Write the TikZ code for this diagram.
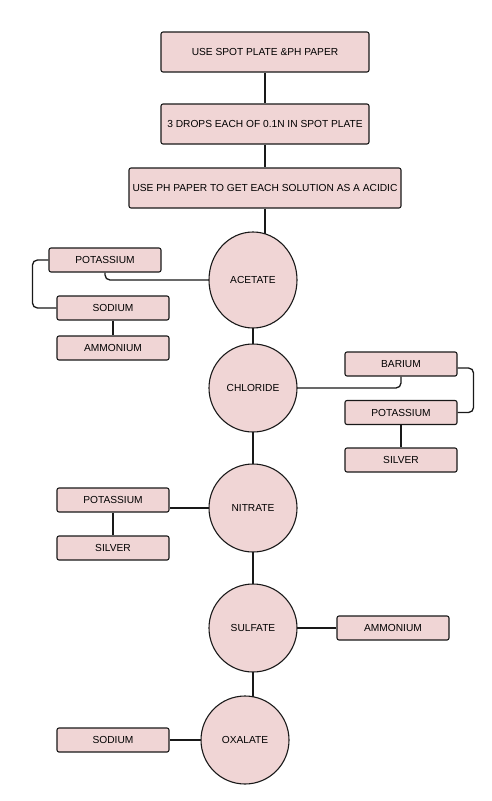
\documentclass[tikz,border=0pt]{standalone}
\usepackage{fontspec}
\setmainfont{Liberation Sans}
\usetikzlibrary{shapes.geometric}
\pgfdeclarelayer{background}
\pgfsetlayers{background,main}
\definecolor{pinkfill}{RGB}{240,213,213}
\definecolor{edge}{RGB}{25,25,25}
\tikzset{
  base/.style={draw=edge, fill=pinkfill, line width=1.1pt, font=\fontsize{10.2}{12}\selectfont, text=black, inner sep=0pt},
  bigbox/.style={base, rectangle, rounded corners=2pt, minimum height=40pt},
  smallbox/.style={base, rectangle, rounded corners=2pt, minimum width=112pt, minimum height=24pt},
  anion/.style={base, ellipse, minimum width=88pt, minimum height=88pt},
  link/.style={draw=edge, line width=1.3pt},
  elbowlink/.style={link, rounded corners=5pt}
}
\begin{document}
\begin{tikzpicture}[x=1pt, y=-1pt]
\useasboundingbox (0,0) rectangle (491,801);
% main steps
\node[bigbox, minimum width=208pt] (b1) at (265,52) {USE SPOT PLATE \&PH PAPER};
\node[bigbox, minimum width=208pt] (b2) at (265,124) {3 DROPS EACH OF 0.1N IN SPOT PLATE};
\node[bigbox, minimum width=272pt] (b3) at (265,188) {USE PH PAPER TO GET EACH SOLUTION AS A ACIDIC};
% anions
\node[anion, minimum height=96pt] (ac) at (253,280) {ACETATE};
\node[anion] (ch) at (253,388) {CHLORIDE};
\node[anion] (ni) at (253,508) {NITRATE};
\node[anion] (su) at (253,628) {SULFATE};
\node[anion] (ox) at (245,740) {OXALATE};
% acetate cations
\node[smallbox] (kA) at (105,260) {POTASSIUM};
\node[smallbox] (naA) at (113,308) {SODIUM};
\node[smallbox] (amA) at (113,348) {AMMONIUM};
% chloride cations
\node[smallbox] (baC) at (401,364) {BARIUM};
\node[smallbox] (kC) at (401,412.5) {POTASSIUM};
\node[smallbox] (agC) at (401,460) {SILVER};
% nitrate cations
\node[smallbox] (kN) at (113,500) {POTASSIUM};
\node[smallbox] (agN) at (113,548) {SILVER};
% sulfate cation
\node[smallbox] (amS) at (393,628) {AMMONIUM};
% oxalate cation
\node[smallbox] (naO) at (113,740) {SODIUM};
\begin{pgfonlayer}{background}
\draw[link] (b1.south) -- (b2.north);
\draw[link] (b2.south) -- (b3.north);
\draw[link] (b3.south) -- (b3.south |- ac.center);
\draw[link] (ac.center) -- (ch.center) -- (ni.center) -- (su.center) -- (su.center |- ox.center);
\draw[elbowlink] (kA.south) |- (ac.center);
\draw[elbowlink] (kA.west) -- ++(-16,0) |- (naA.west);
\draw[link] (naA.south) -- (amA.north);
\draw[elbowlink] (ch.center) -| (baC.south);
\draw[elbowlink] ([yshift=-4pt]baC.east) -- ++(16,0) |- (kC.east);
\draw[link] (kC.south) -- (agC.north);
\draw[link] (kN.east |- ni.center) -- (ni.center);
\draw[link] (kN.south) -- (agN.north);
\draw[link] (su.center) -- (amS.west);
\draw[link] (naO.east) -- (naO.east -| ox.center);
\end{pgfonlayer}
\end{tikzpicture}
\end{document}
